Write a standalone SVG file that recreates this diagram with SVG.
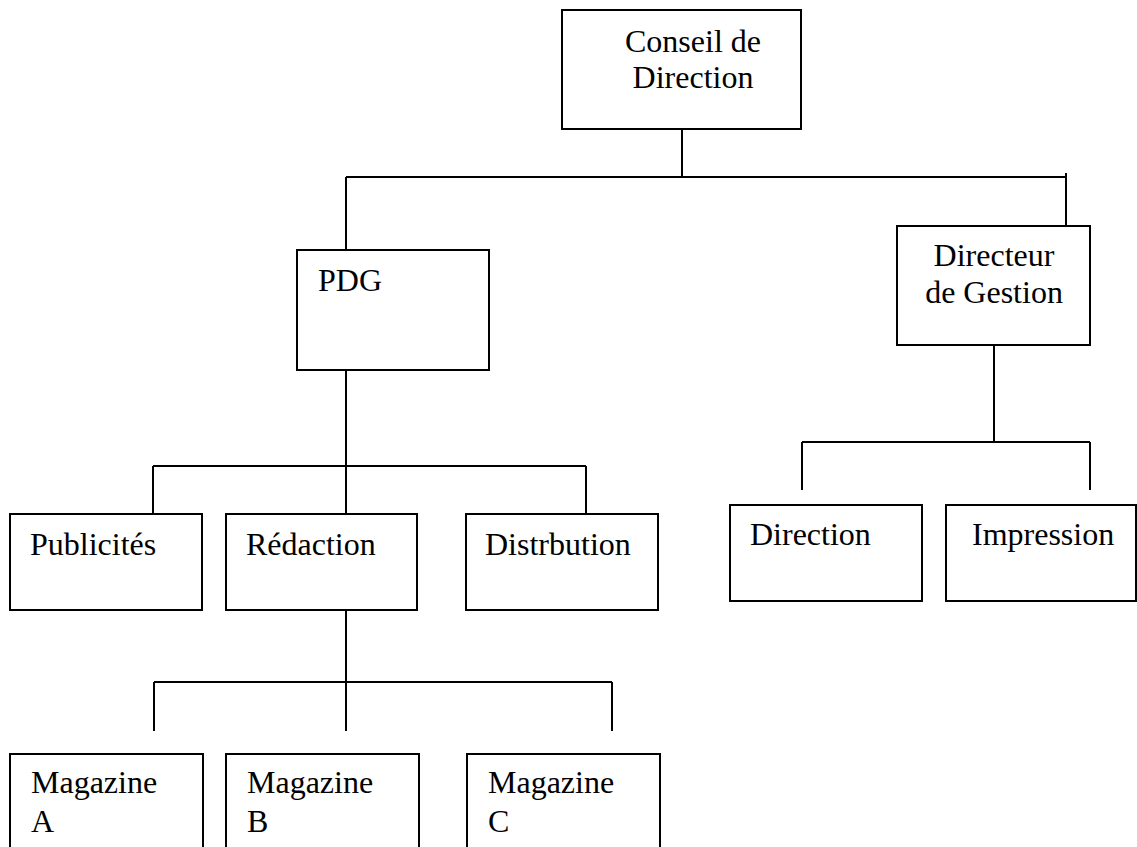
<svg xmlns="http://www.w3.org/2000/svg" width="1137" height="847" viewBox="0 0 1137 847">
<style>
.box{fill:#fff;stroke:#000;stroke-width:2}
.lbl{font-family:"Liberation Serif","Times New Roman",serif;font-size:32px;fill:#000}
.mid{text-anchor:middle}
.conn line{stroke:#000;stroke-width:2;fill:none}
</style>
<rect width="1137" height="847" fill="#fff"/>
<g id="connectors" class="conn">
<line x1="682" y1="129" x2="682" y2="177"/>
<line x1="346" y1="177" x2="1066" y2="177"/>
<line x1="346" y1="177" x2="346" y2="250"/>
<line x1="1066" y1="173" x2="1066" y2="226"/>
<line x1="346" y1="370" x2="346" y2="466"/>
<line x1="153" y1="466" x2="586" y2="466"/>
<line x1="153" y1="466" x2="153" y2="514"/>
<line x1="346" y1="466" x2="346" y2="514"/>
<line x1="586" y1="466" x2="586" y2="514"/>
<line x1="994" y1="345" x2="994" y2="442"/>
<line x1="802" y1="442" x2="1090" y2="442"/>
<line x1="802" y1="442" x2="802" y2="490"/>
<line x1="1090" y1="442" x2="1090" y2="490"/>
<line x1="346" y1="610" x2="346" y2="682"/>
<line x1="154" y1="682" x2="612" y2="682"/>
<line x1="154" y1="682" x2="154" y2="731"/>
<line x1="346" y1="682" x2="346" y2="731"/>
<line x1="612" y1="682" x2="612" y2="731"/>
</g>
<g id="conseil">
<rect class="box" x="562" y="10" width="239" height="119"/>
<text class="lbl mid" x="693" y="52">Conseil de</text>
<text class="lbl mid" x="693" y="88">Direction</text>
</g>
<g id="pdg">
<rect class="box" x="297" y="250" width="192" height="120"/>
<text class="lbl" x="318" y="291">PDG</text>
</g>
<g id="directeur">
<rect class="box" x="897" y="226" width="193" height="119"/>
<text class="lbl mid" x="994" y="266">Directeur</text>
<text class="lbl mid" x="994" y="303">de Gestion</text>
</g>
<g id="publicites">
<rect class="box" x="10" y="514" width="192" height="96"/>
<text class="lbl" x="30" y="555">Publicités</text>
</g>
<g id="redaction">
<rect class="box" x="226" y="514" width="191" height="96"/>
<text class="lbl" x="246" y="555">Rédaction</text>
</g>
<g id="distribution">
<rect class="box" x="466" y="514" width="192" height="96"/>
<text class="lbl" x="485" y="555">Distrbution</text>
</g>
<g id="direction">
<rect class="box" x="730" y="505" width="192" height="96"/>
<text class="lbl" x="750" y="545">Direction</text>
</g>
<g id="impression">
<rect class="box" x="946" y="505" width="190" height="96"/>
<text class="lbl" x="972" y="545">Impression</text>
</g>
<g id="magazineA">
<rect class="box" x="10" y="754" width="193" height="110"/>
<text class="lbl" x="31" y="793">Magazine</text>
<text class="lbl" x="31" y="832">A</text>
</g>
<g id="magazineB">
<rect class="box" x="226" y="754" width="193" height="110"/>
<text class="lbl" x="247" y="793">Magazine</text>
<text class="lbl" x="247" y="832">B</text>
</g>
<g id="magazineC">
<rect class="box" x="467" y="754" width="193" height="110"/>
<text class="lbl" x="488" y="793">Magazine</text>
<text class="lbl" x="488" y="832">C</text>
</g>
</svg>
